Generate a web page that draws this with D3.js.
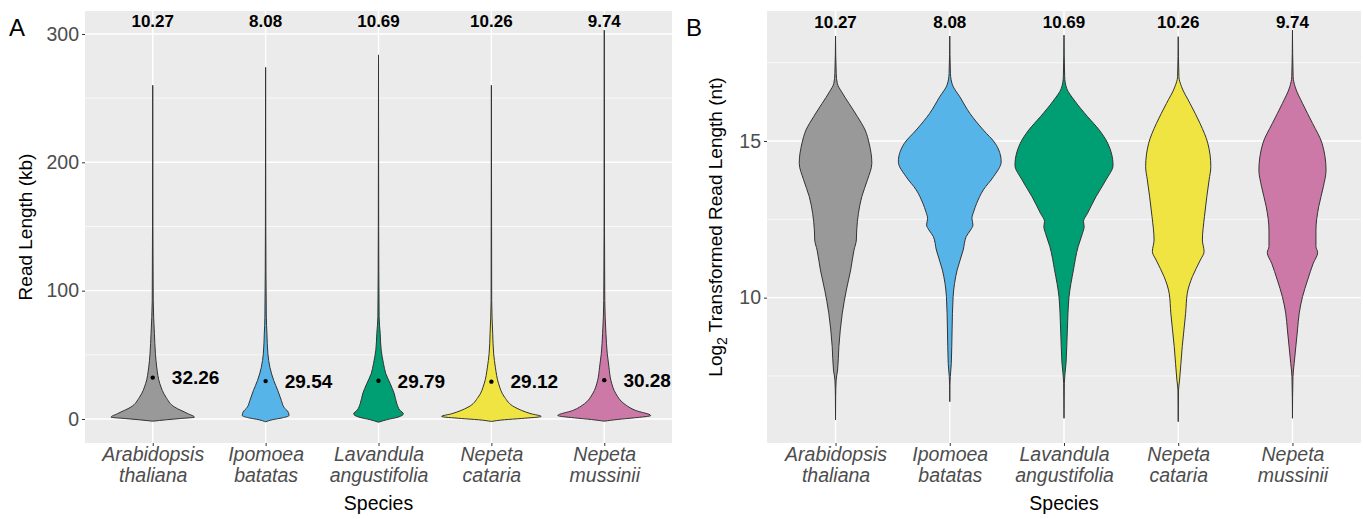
<!DOCTYPE html>
<html>
  <head>
    <meta charset="utf-8">
    <title>Read length violins</title>
    <style>
      body { margin: 0; background: #fff; }
      svg text { font-family: "Liberation Sans", Arial, Helvetica, sans-serif; }
    </style>
  </head>
  <body>
    <div id="vis"></div>
    <script src="https://d3js.org/d3.v7.min.js"></script>
    <script>
    // species, colours and the numbers printed on the chart
    let species = ["Arabidopsis thaliana", "Ipomoea batatas", "Lavandula angustifolia", "Nepeta cataria", "Nepeta mussinii"];
    let fills = ["#999999", "#56B4E9", "#009E73", "#F0E442", "#CC79A7"];
    let topLabels = ["10.27", "8.08", "10.69", "10.26", "9.74"];
    let meanKb = [32.26, 29.54, 29.79, 29.12, 30.28];

    let ticksA = [0, 100, 200, 300], minorA = [50, 150, 250];
    let ticksB = [10, 15], minorB = [7.5, 12.5, 17.5];

    // violin outlines: [value, relative density]
    // panel A: read length in kb
    let densA_ath = [[-1.7,0],[-0.6,0.27],[0.4,0.55],[1.4,0.82],[4.2,0.69],[9.3,0.43],[17,0.26],[27.5,0.14],[40.5,0.078],[51,0.053],[66.5,0.033],[92,0.01],[150,0.004],[260,0]];
    let densA_iba = [[-2.2,0],[-0.6,0.13],[0.9,0.33],[2.7,0.46],[5.3,0.445],[9.2,0.36],[14.4,0.31],[22.2,0.24],[30,0.16],[40.3,0.084],[50.8,0.045],[66.3,0.026],[79.3,0.014],[150,0.004],[274,0]];
    let densA_lan = [[-2.5,0],[-0.6,0.16],[1.5,0.39],[4.1,0.49],[6.6,0.425],[12,0.36],[19.8,0.31],[27.6,0.23],[35.4,0.143],[43.2,0.098],[53.6,0.053],[66.6,0.033],[79.6,0.012],[150,0.004],[283.7,0]];
    let densA_nca = [[-1.9,0],[-0.6,0.255],[0.4,0.59],[2,0.98],[4.1,0.78],[9.2,0.46],[17,0.26],[27.4,0.143],[40.4,0.078],[50.8,0.045],[66.4,0.026],[92.4,0.006],[150,0.004],[260,0]];
    let densA_nmu = [[-1.7,0],[-0.4,0.255],[0.9,0.59],[2.7,0.915],[6.6,0.62],[11.9,0.39],[19.6,0.23],[30,0.131],[40.4,0.092],[50.8,0.059],[66.4,0.033],[92.4,0.01],[150,0.004],[303,0]];

    // panel B: log2 read length (nt)
    let densB_ath = [[6.10,0],[6.84,0.003],[7.37,0.012],[7.69,0.04],[8.44,0.065],[9.50,0.131],[10.24,0.21],[10.88,0.294],[11.52,0.359],[11.84,0.405],[12.16,0.412],[12.69,0.445],[13.22,0.51],[13.76,0.621],[14.29,0.706],[14.93,0.653],[15.35,0.575],[15.78,0.425],[16.20,0.261],[16.57,0.118],[16.84,0.033],[17.16,0.013],[18.35,0]];
    let densB_iba = [[6.68,0],[7.2,0.003],[7.48,0.01],[7.90,0.03],[8.97,0.045],[10.03,0.065],[10.88,0.143],[11.52,0.261],[11.95,0.32],[12.16,0.405],[12.32,0.451],[12.53,0.431],[12.74,0.464],[13.01,0.523],[13.44,0.653],[13.86,0.85],[14.34,1.0],[14.93,0.882],[15.35,0.653],[15.88,0.392],[16.41,0.196],[16.79,0.052],[17.16,0.013],[18.35,0]];
    let densB_lan = [[6.15,0],[7.27,0.006],[7.90,0.039],[8.97,0.065],[10.03,0.098],[10.88,0.183],[11.63,0.275],[12.05,0.359],[12.27,0.392],[12.43,0.379],[12.69,0.457],[13.22,0.621],[13.76,0.817],[14.23,0.954],[14.93,0.85],[15.35,0.686],[15.78,0.457],[16.31,0.196],[16.68,0.052],[17.05,0.013],[18.38,0]];
    let densB_nca = [[6.04,0],[7.05,0.006],[7.37,0.026],[8.44,0.078],[9.50,0.144],[10.14,0.176],[10.67,0.275],[11.20,0.43],[11.47,0.503],[11.84,0.47],[12.59,0.51],[13.22,0.556],[13.76,0.601],[14.18,0.634],[14.93,0.575],[15.56,0.425],[16.20,0.229],[16.73,0.065],[17.05,0.013],[18.33,0]];
    let densB_nmu = [[6.15,0],[7.48,0.01],[7.90,0.033],[8.97,0.098],[9.50,0.131],[10.03,0.196],[10.56,0.294],[11.10,0.405],[11.44,0.49],[11.63,0.457],[12.16,0.457],[12.90,0.51],[13.54,0.601],[14.07,0.653],[14.93,0.575],[15.56,0.392],[16.20,0.196],[16.73,0.052],[17.05,0.013],[18.54,0]];

    let w = 1363, h = 519;
    let svg = d3.select("#vis").append("svg")
                .attr("width", w)
                .attr("height", h);

    let panels = [
      { tag: "A", left: 85, right: 672, top: 11, bottom: 443,
        domain: [-18.7, 317.9], ticks: ticksA, minor: minorA,
        dens: [densA_ath, densA_iba, densA_lan, densA_nca, densA_nmu],
        topAt: 310, means: meanKb, tagX: 9, titleX: 32 },
      { tag: "B", left: 767, right: 1361, top: 11, bottom: 443,
        domain: [5.36, 19.15], ticks: ticksB, minor: minorB,
        dens: [densB_ath, densB_iba, densB_lan, densB_nca, densB_nmu],
        topAt: 18.8, means: null, tagX: 686, titleX: 722 }
    ];

    panels.forEach(function(p) {
      let g = svg.append("g");
      let x = d3.scalePoint().domain(species).range([p.left, p.right]).padding(0.6);
      let y = d3.scaleLinear().domain(p.domain).range([p.bottom, p.top]);
      let wid = d3.scaleLinear().domain([0, 1]).range([0, 0.45 * x.step()]);

      g.append("rect")
        .attr("x", p.left).attr("y", p.top)
        .attr("width", p.right - p.left).attr("height", p.bottom - p.top)
        .style("fill", "#ebebeb");

      // grid
      g.selectAll(".minor").data(p.minor).enter().append("line")
        .attr("x1", p.left).attr("x2", p.right)
        .attr("y1", d => y(d)).attr("y2", d => y(d))
        .style("stroke", "#fff").style("stroke-width", 0.7);
      g.selectAll(".major").data(p.ticks).enter().append("line")
        .attr("x1", p.left).attr("x2", p.right)
        .attr("y1", d => y(d)).attr("y2", d => y(d))
        .style("stroke", "#fff").style("stroke-width", 1.4);
      g.selectAll(".vmajor").data(species).enter().append("line")
        .attr("x1", d => x(d)).attr("x2", d => x(d))
        .attr("y1", p.top).attr("y2", p.bottom)
        .style("stroke", "#fff").style("stroke-width", 1.4);

      // violins
      species.forEach(function(s, i) {
        let cx = x(s);
        let area = d3.area()
          .y(d => y(d[0]))
          .x0(d => cx - wid(d[1]))
          .x1(d => cx + wid(d[1]))
          .curve(d3.curveMonotoneY);
        g.append("path")
          .datum(p.dens[i])
          .attr("d", area)
          .style("fill", fills[i])
          .style("stroke", "#333")
          .style("stroke-width", 1);

        g.append("text")
          .attr("x", cx).attr("y", y(p.topAt))
          .attr("text-anchor", "middle").attr("dy", "0.36em")
          .style("font-size", "17px").style("font-weight", "bold")
          .text(topLabels[i]);

        if (p.means) {
          g.append("circle")
            .attr("cx", cx).attr("cy", y(p.means[i])).attr("r", 2.2)
            .style("fill", "#000");
          g.append("text")
            .attr("x", cx + 0.38 * x.step()).attr("y", y(p.means[i]))
            .attr("text-anchor", "middle").attr("dy", "0.36em")
            .style("font-size", "19px").style("font-weight", "bold")
            .text(p.means[i].toFixed(2));
        }
      });

      // axes
      let ya = g.append("g").attr("transform", "translate(" + p.left + ",0)")
        .call(d3.axisLeft(y).tickValues(p.ticks).tickSize(3).tickPadding(3));
      let xa = g.append("g").attr("transform", "translate(0," + p.bottom + ")")
        .call(d3.axisBottom(x).tickSize(3).tickPadding(3));
      [ya, xa].forEach(function(a) {
        a.select(".domain").remove();
        a.selectAll(".tick line").style("stroke", "#333").style("stroke-width", 1);
        a.selectAll(".tick text").style("fill", "#4d4d4d").style("font-size", "19.5px")
          .style("font-family", "Liberation Sans, Arial, sans-serif");
      });
      xa.selectAll(".tick text").each(function(d) {
        let t = d3.select(this).text("").style("font-style", "italic").attr("dy", null).attr("y", 18);
        d.split(" ").forEach(function(word, k) {
          t.append("tspan").attr("x", 0).attr("dy", k == 0 ? 0 : 20.7).text(word);
        });
      });

      g.append("text")
        .attr("x", (p.left + p.right) / 2).attr("y", 510)
        .attr("text-anchor", "middle")
        .style("font-size", "19.5px")
        .text("Species");

      let yt = g.append("text")
        .attr("transform", "translate(" + p.titleX + "," + (p.top + p.bottom) / 2 + ") rotate(-90)")
        .attr("text-anchor", "middle")
        .style("font-size", "19px");
      if (p.tag == "A") {
        yt.text("Read Length (kb)");
      } else {
        yt.append("tspan").text("Log");
        yt.append("tspan").attr("dy", 5).style("font-size", "14px").text("2");
        yt.append("tspan").attr("dy", -5).text(" Transformed Read Length (nt)");
      }

      g.append("text")
        .attr("x", p.tagX).attr("y", 36)
        .style("font-size", "24px")
        .text(p.tag);
    });
    </script>
  </body>
</html>
